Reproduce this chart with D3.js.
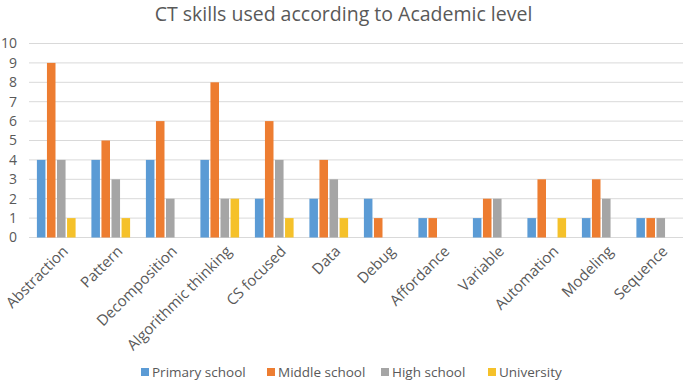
<!DOCTYPE html>
<html lang="en">
<head>
<meta charset="utf-8">
<title>CT skills used according to Academic level</title>
<script src="https://d3js.org/d3.v7.min.js"></script>
<style>
    body { margin: 0; background: #fff; }
    text { font-family: "Open Sans", sans-serif; fill: #595959; }
</style>
</head>
<body>
<script>
// data
const skills = ["Abstraction", "Pattern", "Decomposition", "Algorithmic thinking", "CS focused",
                "Data", "Debug", "Affordance", "Variable", "Automation", "Modeling", "Sequence"];
const levels = ["Primary school", "Middle school", "High school", "University"];
const primary = [4, 4, 4, 4, 2, 2, 2, 1, 1, 1, 1, 1];
const middle  = [9, 5, 6, 8, 6, 4, 1, 1, 2, 3, 3, 1];
const high    = [4, 3, 2, 2, 4, 3, 0, 0, 2, 0, 2, 1];
const univ    = [1, 1, 0, 2, 1, 1, 0, 0, 0, 1, 0, 0];
const yTicks = [0, 1, 2, 3, 4, 5, 6, 7, 8, 9, 10];
const colors = ["#5B9BD5", "#ED7D31", "#A5A5A5", "#F5C12A"];

const seriesVals = [primary, middle, high, univ];
const dataset = skills.map((s, i) => ({
    skill: s,
    values: levels.map((l, j) => ({ level: l, value: seriesVals[j][i] }))
}));

const width = 685, height = 382;
const plotLeft = 29, plotRight = 683, plotTop = 43.5, plotBottom = 237.5;

const svg = d3.select("body").append("svg")
    .attr("width", width)
    .attr("height", height);

const x0 = d3.scaleBand()
    .domain(skills)
    .range([plotLeft, plotRight])
    .paddingInner(0.29)
    .paddingOuter(0.145);

const x1 = d3.scaleBand()
    .domain(levels)
    .range([0, x0.bandwidth()])
    .paddingInner(0.15);

const y = d3.scaleLinear()
    .domain([0, 10])
    .range([plotBottom, plotTop]);

// title
svg.append("text")
    .attr("x", width / 2 + 1)
    .attr("y", 21)
    .attr("text-anchor", "middle")
    .style("font-size", "19.5px")
    .text("CT skills used according to Academic level");

// gridlines
svg.append("g")
    .selectAll("line")
    .data(yTicks)
    .enter()
    .append("line")
    .attr("x1", plotLeft)
    .attr("x2", plotRight)
    .attr("y1", d => y(d))
    .attr("y2", d => y(d))
    .attr("stroke", "#D9D9D9")
    .attr("stroke-width", 1);

// y axis labels
const leftAxis = d3.axisLeft(y).tickValues(yTicks).tickSize(0).tickPadding(0);
const gy = svg.append("g")
    .attr("transform", "translate(" + 17 + ",0)")
    .call(leftAxis);
gy.select(".domain").remove();
gy.selectAll("text")
    .style("font-size", "14px")
    .style("font-family", "'Open Sans', sans-serif")
    .attr("fill", "#595959");

// bars
svg.append("g")
    .selectAll("g")
    .data(dataset)
    .enter()
    .append("g")
    .attr("transform", d => "translate(" + x0(d.skill) + ",0)")
    .selectAll("rect")
    .data(d => d.values.filter(v => v.value > 0))
    .enter()
    .append("rect")
    .attr("x", d => x1(d.level))
    .attr("y", d => y(d.value))
    .attr("width", x1.bandwidth())
    .attr("height", d => y(0) - y(d.value))
    .attr("fill", d => colors[levels.indexOf(d.level)]);

// x axis labels
const bottomAxis = d3.axisBottom(x0).tickSize(0).tickPadding(0);
const gx = svg.append("g")
    .attr("transform", "translate(0," + plotBottom + ")")
    .call(bottomAxis);
gx.select(".domain").remove();
gx.selectAll("text")
    .style("font-size", "15px")
    .style("font-family", "'Open Sans', sans-serif")
    .attr("fill", "#595959")
    .attr("text-anchor", "end")
    .attr("dy", "0.35em")
    .attr("transform", "translate(9,11) rotate(-45)");

// legend
const legendX = [141, 267, 381, 488];
const legend = svg.append("g")
    .selectAll("g")
    .data(levels)
    .enter()
    .append("g")
    .attr("transform", (d, i) => "translate(" + legendX[i] + ",372)");
legend.append("rect")
    .attr("x", 0)
    .attr("y", -4)
    .attr("width", 8)
    .attr("height", 8)
    .attr("fill", (d, i) => colors[i]);
legend.append("text")
    .attr("x", 11)
    .attr("y", 0)
    .attr("dy", "0.35em")
    .style("font-size", "13.5px")
    .text(d => d);
</script>
</body>
</html>
